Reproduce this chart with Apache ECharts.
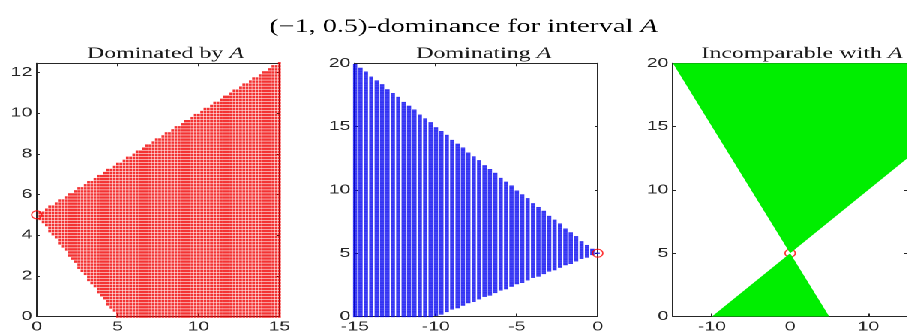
<!DOCTYPE html>
<html>
<head>
<meta charset="utf-8">
<script src="https://cdn.jsdelivr.net/npm/echarts@6/dist/echarts.min.js"></script>
<style>
  html, body { margin: 0; padding: 0; background: #fff; overflow: hidden; }
  /* the figure is laid out narrow and widened 1.5x horizontally */
  #chart { width: 605.33px; height: 334px; transform: scaleX(1.5); transform-origin: 0 0; }
</style>
</head>
<body>
<div id="chart"></div>
<script>
// Interval A sits at this point in every panel
const pointA = [0, 5];

// Corner points of each region (convex polygons)
const dominatedRegion = [[0, 5], [15, 12.5], [15, 0], [5, 0]];
const dominatingRegion = [[0, 5], [-15, 20], [-15, 0], [-10, 0]];
const incomparableUpper = [[-15, 20], [0, 5], [15, 12.5], [15, 20]];
const incomparableLower = [[-10, 0], [0, 5], [5, 0]];

// Sampling grid spacing [dx, dy] for the dotted regions
const dominatedStep = [0.2, 0.15];
const dominatingStep = [0.333, 0.1];

// Axis ranges and tick labels
const xTicks1 = [0, 5, 10, 15];
const yTicks1 = [0, 2, 4, 6, 8, 10, 12];
const xTicks2 = [-15, -10, -5, 0];
const yTicks2 = [0, 5, 10, 15, 20];
const xTicks3 = [-10, 0, 10];
const yTicks3 = [0, 5, 10, 15, 20];
const xRange1 = [0, 15], yRange1 = [0, 12.45];
const xRange2 = [-15, 0], yRange2 = [0, 20];
const xRange3 = [-15, 15], yRange3 = [0, 20];

// Grid points that fall inside a convex polygon (either winding)
function samplePolygon(poly, step) {
  const xs = poly.map(p => p[0]), ys = poly.map(p => p[1]);
  const x0 = Math.min(...xs), x1 = Math.max(...xs);
  const y0 = Math.min(...ys), y1 = Math.max(...ys);
  const eps = 1e-6;
  function inside(x, y) {
    let pos = true, neg = true;
    for (let i = 0; i < poly.length; i++) {
      const a = poly[i], b = poly[(i + 1) % poly.length];
      const c = (b[0] - a[0]) * (y - a[1]) - (b[1] - a[1]) * (x - a[0]);
      if (c < -eps) pos = false;
      if (c > eps) neg = false;
    }
    return pos || neg;
  }
  // columns are counted outward from x = 0
  const fromZero = x0 >= 0 ? 1 : -1;
  const out = [];
  const nx = Math.ceil(Math.max(Math.abs(x0), Math.abs(x1)) / step[0]);
  const ny = Math.ceil((y1 - y0) / step[1]);
  for (let i = 0; i <= nx; i++) {
    const x = fromZero * i * step[0];
    if (x < x0 - eps || x > x1 + eps) continue;
    for (let j = 0; j <= ny; j++) {
      const y = y0 + j * step[1];
      if (y > y1 + eps) continue;
      if (inside(x, y)) out.push([+x.toFixed(4), +y.toFixed(4)]);
    }
  }
  return out;
}

const dominatedPts = samplePolygon(dominatedRegion, dominatedStep);
const dominatingPts = samplePolygon(dominatingRegion, dominatingStep);

const AXIS_COLOR = '#262626';
const TICK_FONT = 'Liberation Sans';
const SERIF = 'Liberation Serif';

const grids = [
  { left: 24.47, top: 63.3, width: 161.9, height: 253.2 },
  { left: 236.67, top: 63.3, width: 161.9, height: 253.2 },
  { left: 448.67, top: 63.3, width: 161.9, height: 253.2 }
];

function xAxes(gi, range, ticks) {
  const base = {
    type: 'value', gridIndex: gi, min: range[0], max: range[1],
    splitLine: { show: false },
    axisLine: { show: true, onZero: false, lineStyle: { color: AXIS_COLOR, width: 1 } },
    axisTick: { show: true, inside: true, length: 3, customValues: ticks, lineStyle: { color: AXIS_COLOR } }
  };
  return [
    Object.assign({}, base, { position: 'bottom',
      axisLabel: { show: true, customValues: ticks, color: AXIS_COLOR, fontFamily: TICK_FONT, fontSize: 13, margin: 4 } }),
    Object.assign({}, base, { position: 'top', axisLabel: { show: false } })
  ];
}
function yAxes(gi, range, ticks) {
  const base = {
    type: 'value', gridIndex: gi, min: range[0], max: range[1],
    splitLine: { show: false },
    axisLine: { show: true, onZero: false, lineStyle: { color: AXIS_COLOR, width: 1 } },
    axisTick: { show: true, inside: true, length: 2, customValues: ticks, lineStyle: { color: AXIS_COLOR } }
  };
  return [
    Object.assign({}, base, { position: 'left',
      axisLabel: { show: true, customValues: ticks, color: AXIS_COLOR, fontFamily: TICK_FONT, fontSize: 13, margin: 3 } }),
    Object.assign({}, base, { position: 'right', axisLabel: { show: false } })
  ];
}

const xAxis = [].concat(xAxes(0, xRange1, xTicks1), xAxes(1, xRange2, xTicks2), xAxes(2, xRange3, xTicks3));
const yAxis = [].concat(yAxes(0, yRange1, yTicks1), yAxes(1, yRange2, yTicks2), yAxes(2, yRange3, yTicks3));

function markerA(xi, yi, z) {
  return {
    type: 'scatter', xAxisIndex: xi, yAxisIndex: yi, data: [pointA], clip: false, silent: true, z: z,
    symbol: 'circle', symbolSize: [6.8, 8],
    itemStyle: { color: 'rgba(0,0,0,0)', borderColor: '#ff0000', borderWidth: 1 }
  };
}

const subTitle = (text, cx) => ({
  text: '{n|' + text + ' }{i|A}', left: cx, top: 41, textAlign: 'center',
  textStyle: { fontWeight: 'normal', rich: {
    n: { fontFamily: SERIF, fontSize: 16, fontWeight: 'normal', color: '#1a1a1a' },
    i: { fontFamily: SERIF, fontSize: 16, fontWeight: 'normal', fontStyle: 'italic', color: '#1a1a1a' }
  } }
});

const option = {
  animation: false,
  backgroundColor: '#ffffff',
  title: [
    { text: '{n|(−1, 0.5)-dominance for interval }{i|A}', left: 304, top: 12.5, textAlign: 'center',
      textStyle: { fontWeight: 'normal', rich: {
        n: { fontFamily: SERIF, fontSize: 18.8, fontWeight: 'normal', color: '#000' },
        i: { fontFamily: SERIF, fontSize: 18.8, fontWeight: 'normal', fontStyle: 'italic', color: '#000' }
      } } },
    subTitle('Dominated by', 105.4),
    subTitle('Dominating', 317.6),
    subTitle('Incomparable with', 529.7)
  ],
  grid: grids,
  xAxis: xAxis,
  yAxis: yAxis,
  series: [
    { type: 'scatter', xAxisIndex: 0, yAxisIndex: 0, data: dominatedPts, silent: true, clip: false,
      symbol: 'rect', symbolSize: [1.9, 2.5], itemStyle: { color: '#f00000' } },
    markerA(0, 0, 3),
    { type: 'scatter', xAxisIndex: 2, yAxisIndex: 2, data: dominatingPts, silent: true, clip: false,
      symbol: 'rect', symbolSize: [2.8, 1.3], itemStyle: { color: '#0000f0' } },
    markerA(2, 2, 3),
    markerA(4, 4, 1),
    { type: 'custom', xAxisIndex: 4, yAxisIndex: 4, silent: true, z: 2,
      data: [0, 1],
      renderItem: function (params, api) {
        const poly = [incomparableUpper, incomparableLower][params.dataIndex];
        return { type: 'polygon', shape: { points: poly.map(p => api.coord(p)) },
          style: { fill: '#00ee00', stroke: null } };
      } }
  ]
};

const chart = echarts.init(document.getElementById('chart'), null, { renderer: 'canvas', devicePixelRatio: 2 });
chart.setOption(option);
</script>
</body>
</html>
